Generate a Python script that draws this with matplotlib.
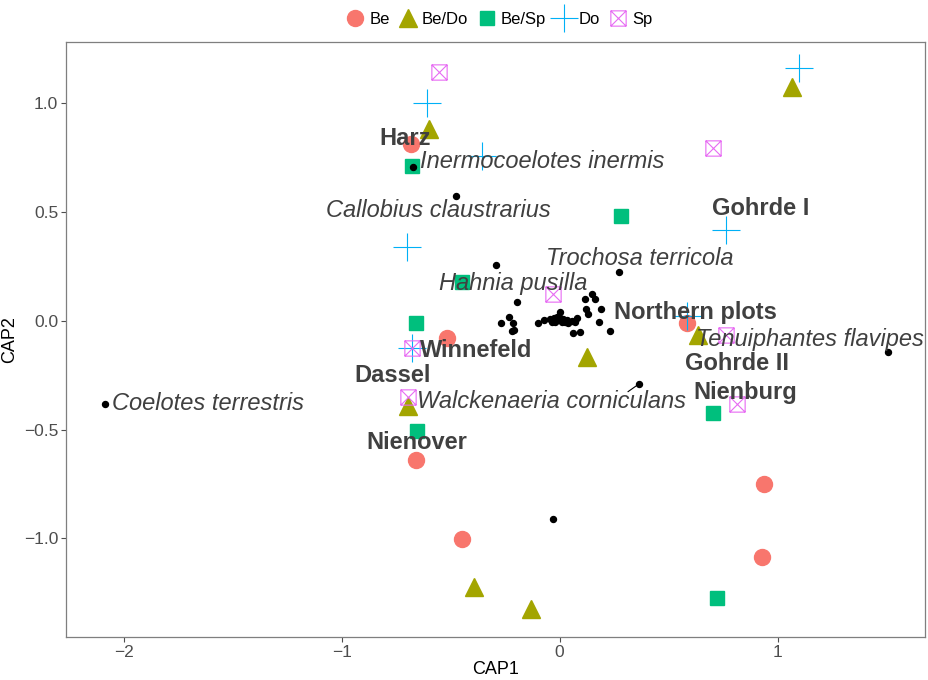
import numpy as np
import matplotlib.pyplot as plt
from matplotlib.path import Path

plt.rcParams['font.family'] = ['Liberation Sans', 'DejaVu Sans']

# Standorte (CAP1, CAP2) je Gruppe
be_x = [-0.681, -0.516, -0.658, -0.447, 0.585, 0.938, 0.928]
be_y = [0.809, -0.078, -0.639, -1.002, -0.009, -0.750, -1.085]
bedo_x = [-0.599, 1.066, 0.126, 0.636, -0.695, -0.392, -0.131]
bedo_y = [0.878, 1.071, -0.166, -0.064, -0.390, -1.223, -1.324]
besp_x = [-0.677, 0.282, -0.447, -0.658, -0.654, 0.704, 0.722]
besp_y = [0.708, 0.478, 0.179, -0.009, -0.506, -0.423, -1.274]
do_x = [-0.608, -0.355, 1.099, 0.764, -0.700, 0.584, -0.677]
do_y = [0.998, 0.754, 1.159, 0.414, 0.340, 0.023, -0.124]
sp_x = [-0.553, 0.704, -0.030, 0.765, -0.677, -0.695, 0.814]
sp_y = [1.140, 0.791, 0.120, -0.064, -0.124, -0.349, -0.382]

# Arten (ohne Beschriftung)
arten_x = [-0.195, 0.117, 0.149, 0.163, 0.002, 0.122, 0.131, 0.190, 0.181, 0.232,
           -0.232, -0.268, -0.213, -0.209, -0.218, -0.099, -0.071, -0.044, -0.025,
           -0.011, 0.002, 0.011, 0.025, 0.039, 0.057, 0.080, 0.071, 0.062, 0.094,
           -0.021, -0.007, 0.016, 0.034, -0.034, -0.030]
arten_y = [0.087, 0.101, 0.120, 0.101, 0.041, 0.051, 0.032, 0.051, -0.005, -0.046,
           0.018, -0.009, -0.009, -0.041, -0.046, -0.009, 0.005, 0.009, 0.014,
           0.018, 0.014, -0.005, -0.005, -0.009, 0.000, 0.014, -0.005, -0.055, -0.051,
           -0.005, 0.005, 0.009, 0.005, -0.005, -0.910]

# Arten mit Beschriftung
art_namen = ['Inermocoelotes inermis', 'Callobius claustrarius', 'Trochosa terricola',
             'Hahnia pusilla', 'Tenuiphantes flavipes', 'Walckenaeria corniculans',
             'Coelotes terrestris']
art_x = [-0.672, -0.475, 0.273, -0.291, 1.507, 0.365, -2.085]
art_y = [0.703, 0.570, 0.225, 0.253, -0.143, -0.290, -0.382]
art_lab_x = [-0.080, -0.557, 0.369, -0.213, 1.149, -0.039, -1.612]
art_lab_y = [0.731, 0.506, 0.285, 0.170, -0.087, -0.372, -0.382]

# Regionen
region_namen = ['Harz', 'Gohrde I', 'Northern plots', 'Winnefeld', 'Gohrde II',
                'Dassel', 'Nienburg', 'Nienover']
region_x = [-0.709, 0.924, 0.622, -0.383, 0.814, -0.764, 0.851, -0.654]
region_y = [0.837, 0.515, 0.037, -0.138, -0.198, -0.253, -0.331, -0.561]

# Quadrat mit Kreuz (ggplot shape 7)
box_x = Path([(-1, -1), (1, -1), (1, 1), (-1, 1), (-1, -1), (-1, -1), (1, 1), (-1, 1), (1, -1)],
             [Path.MOVETO, Path.LINETO, Path.LINETO, Path.LINETO, Path.CLOSEPOLY,
              Path.MOVETO, Path.LINETO, Path.MOVETO, Path.LINETO])

fig = plt.figure(figsize=(9.29, 6.8), dpi=100)
ax = fig.add_axes([0.071, 0.063, 0.925, 0.875])

ax.plot(be_x, be_y, 'o', ms=11.5, color='#F8766D', mec='#F8766D', label='Be', zorder=2)
ax.plot(bedo_x, bedo_y, '^', ms=13, color='#A3A500', label='Be/Do', zorder=2)
ax.plot(besp_x, besp_y, 's', ms=9.5, color='#00BF7D', label='Be/Sp', zorder=2)
ax.plot(do_x, do_y, '+', ms=20, mew=0.8, color='#00B0F6', label='Do', zorder=2)
ax.plot(sp_x, sp_y, marker=box_x, ls='none', ms=11, mew=0.8, mfc='none',
        color='#E76BF3', label='Sp', zorder=2)

ax.plot(arten_x, arten_y, 'o', ms=4.3, color='black', zorder=3)
ax.plot(art_x, art_y, 'o', ms=4.3, color='black', zorder=3)

# Verbindungslinie fuer Walckenaeria (repel)
ax.plot([art_x[5], 0.314], [art_y[5], -0.326], color='black', lw=0.8, zorder=3)

for name, x, y in zip(art_namen, art_lab_x, art_lab_y):
    ax.text(x, y, name, fontsize=17, style='italic', color='#404040',
            ha='center', va='center', zorder=4)
for name, x, y in zip(region_namen, region_x, region_y):
    ax.text(x, y, name, fontsize=17, fontweight='bold', color='#404040',
            ha='center', va='center', zorder=4)

ax.set_xlim(-2.264, 1.677)
ax.set_ylim(-1.453, 1.278)
ax.set_xticks([-2, -1, 0, 1])
ax.set_yticks([-1.0, -0.5, 0.0, 0.5, 1.0])
ax.set_yticklabels(['\u22121.0', '\u22120.5', '0.0', '0.5', '1.0'])
ax.set_xticklabels(['\u22122', '\u22121', '0', '1'])
ax.tick_params(colors='#4D4D4D', labelsize=12.5, length=3.5, width=0.8, pad=2)
for s in ax.spines.values():
    s.set_color('#7F7F7F')
    s.set_linewidth(0.9)
ax.set_xlabel('CAP1', fontsize=13, labelpad=1)
ax.set_ylabel('CAP2', fontsize=13, labelpad=4)

fig.legend(loc='upper center', bbox_to_anchor=(0.537, 1.005), ncol=5, frameon=False,
           fontsize=12, handlelength=1.2, handletextpad=0.25, columnspacing=0.5,
           numpoints=1)

fig.savefig('out.png', dpi=100)
